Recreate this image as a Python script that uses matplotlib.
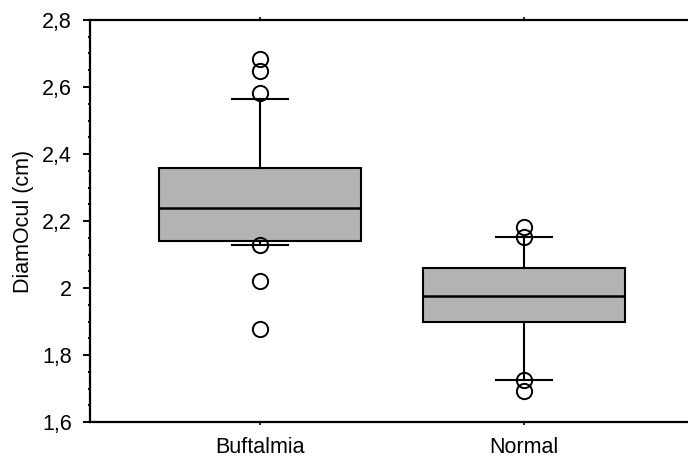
import matplotlib
matplotlib.use('Agg')
import matplotlib.pyplot as plt
from matplotlib.ticker import MultipleLocator, FuncFormatter

# groups and box statistics
groups = ['Buftalmia', 'Normal']
q1 = [2.139, 1.900]
medians = [2.238, 1.976]
q3 = [2.359, 2.059]
whis_low = [2.127, 1.726]
whis_high = [2.564, 2.151]
outliers = [
    [2.684, 2.649, 2.583, 2.127, 2.022, 1.879],
    [2.181, 2.153, 1.725, 1.692],
]

plt.rcParams['font.family'] = ['Liberation Sans', 'DejaVu Sans']
plt.rcParams['font.size'] = 15.5

fig = plt.figure(figsize=(6.88, 4.58), dpi=100)
ax = fig.add_axes([90 / 688, 36 / 458, 598 / 688, 402 / 458])

stats = []
for i in range(len(groups)):
    stats.append({
        'label': groups[i],
        'q1': q1[i], 'med': medians[i], 'q3': q3[i],
        'whislo': whis_low[i], 'whishi': whis_high[i],
        'fliers': outliers[i],
    })

ax.bxp(stats, positions=[1, 2], widths=0.765, capwidths=0.212,
       patch_artist=True, showfliers=True,
       boxprops=dict(facecolor='#b3b3b3', edgecolor='black', linewidth=1.5),
       medianprops=dict(color='black', linewidth=1.8),
       whiskerprops=dict(color='black', linewidth=1.5),
       capprops=dict(color='black', linewidth=1.5),
       flierprops=dict(marker='o', markersize=11, markerfacecolor='none',
                       markeredgecolor='black', markeredgewidth=1.4))

ax.set_xlim(0.356, 2.621)
ax.set_ylim(1.6, 2.8)
ax.yaxis.set_major_locator(MultipleLocator(0.2))
ax.yaxis.set_minor_locator(MultipleLocator(0.05))
ax.yaxis.set_major_formatter(FuncFormatter(lambda v, p: f'{v:g}'.replace('.', ',')))
ax.set_ylabel('DiamOcul (cm)', labelpad=6)

for s in ['left', 'bottom', 'top']:
    ax.spines[s].set_linewidth(1.6)
ax.spines['right'].set_visible(False)

ax.tick_params(axis='y', which='major', direction='out', length=5, width=1.4, pad=8)
ax.tick_params(axis='y', which='minor', direction='out', length=1.8, width=1.4)
ax.tick_params(axis='x', which='major', direction='out', length=2.5, width=1.2,
               pad=8, top=True)

fig.savefig('out.png', dpi=100)
